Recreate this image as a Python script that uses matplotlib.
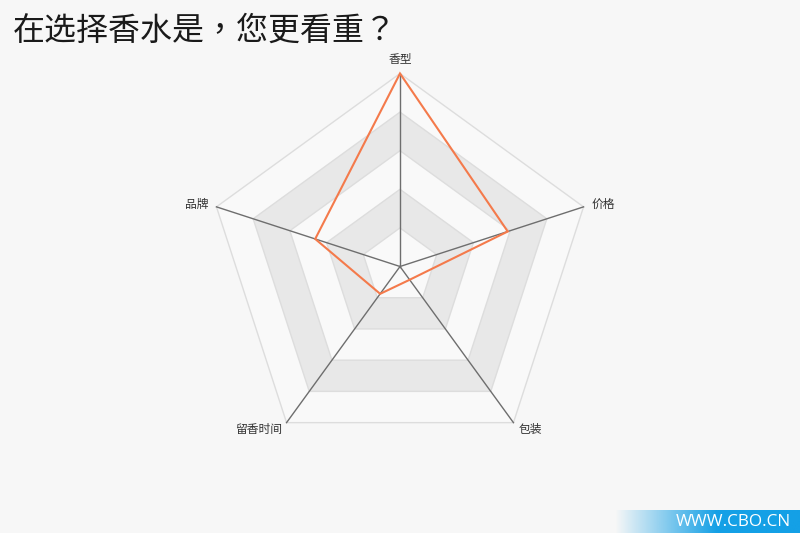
import numpy as np
import matplotlib
matplotlib.use("Agg")
import matplotlib.pyplot as plt
from matplotlib.patches import Polygon

plt.rcParams['font.family'] = ['Noto Sans CJK SC', 'DejaVu Sans']

# data
indicators = ["香型", "价格", "包装", "留香时间", "品牌"]
values = [100, 58.7, 8.5, 17.5, 46.2]
max_value = 100
n_rings = 5
title = "在选择香水是，您更看重？"
watermark = "WWW.CBO.CN"

BG = "#f7f7f7"
n = len(indicators)
ang = np.pi / 2 - 2 * np.pi * np.arange(n) / n   # clockwise from top
ux, uy = np.cos(ang), np.sin(ang)

W, H = 800, 533
PX = 193 / max_value          # pixels per data unit
fig = plt.figure(figsize=(W / 100, H / 100), dpi=100, facecolor=BG)
ax = fig.add_axes([0, 0, 1, 1])
ax.set_facecolor(BG)
ax.set_xlim(-W / 2 / PX, W / 2 / PX)
ax.set_ylim(-H / 2 / PX, H / 2 / PX)
ax.set_aspect("equal")
ax.axis("off")

# split areas + split lines (outer to inner)
for i in range(n_rings, 0, -1):
    r = max_value * i / n_rings
    fc = "#e8e8e8" if i % 2 == 0 else "#f9f9f9"
    ax.add_patch(Polygon(np.c_[r * ux, r * uy], closed=True, fc=fc, ec="#dddddd", lw=1, zorder=1))

# axis lines
for k in range(n):
    ax.plot([0, max_value * ux[k]], [0, max_value * uy[k]], color="#6e6e6e", lw=1, zorder=2)

# series
v = np.array(values, dtype=float)
ax.add_patch(Polygon(np.c_[v * ux, v * uy], closed=True, fill=False, ec="#f47a4b", lw=1.5, zorder=3))

# indicator names
for k, name in enumerate(indicators):
    if abs(ux[k]) < 1e-6:
        gap, ha = 14 / PX, "center"
    else:
        gap, ha = 8 / PX, ("left" if ux[k] > 0 else "right")
    x = (max_value + gap) * ux[k]
    y = (max_value + gap) * uy[k]
    ax.text(x, y, name, ha=ha, va="center", fontsize=8.5, color="#333333", zorder=4)

# TC font centres the full-width punctuation like the original
fig.text(13 / W, 1 - 31 / H, title, ha="left", va="center", fontsize=23, color="#1a1a1a",
         family=["Noto Sans CJK TC", "DejaVu Sans"])

# watermark with gradient
wax = fig.add_axes([615 / W, 0, 185 / W, 23 / H])
wax.axis("off")
grad = np.zeros((1, 256, 4))
grad[..., 0], grad[..., 1], grad[..., 2] = 20 / 255, 160 / 255, 230 / 255
grad[..., 3] = np.clip(np.linspace(0, 1, 256) / 0.55, 0, 1)
wax.imshow(grad, aspect="auto", extent=[0, 1, 0, 1])
wax.set_xlim(0, 1); wax.set_ylim(0, 1)
fig.text(733 / W, 11 / H, watermark, ha="center", va="center", fontsize=12.3,
         color="white", family=["Open Sans", "DejaVu Sans"])

fig.savefig("out.png", dpi=100, facecolor=BG)
